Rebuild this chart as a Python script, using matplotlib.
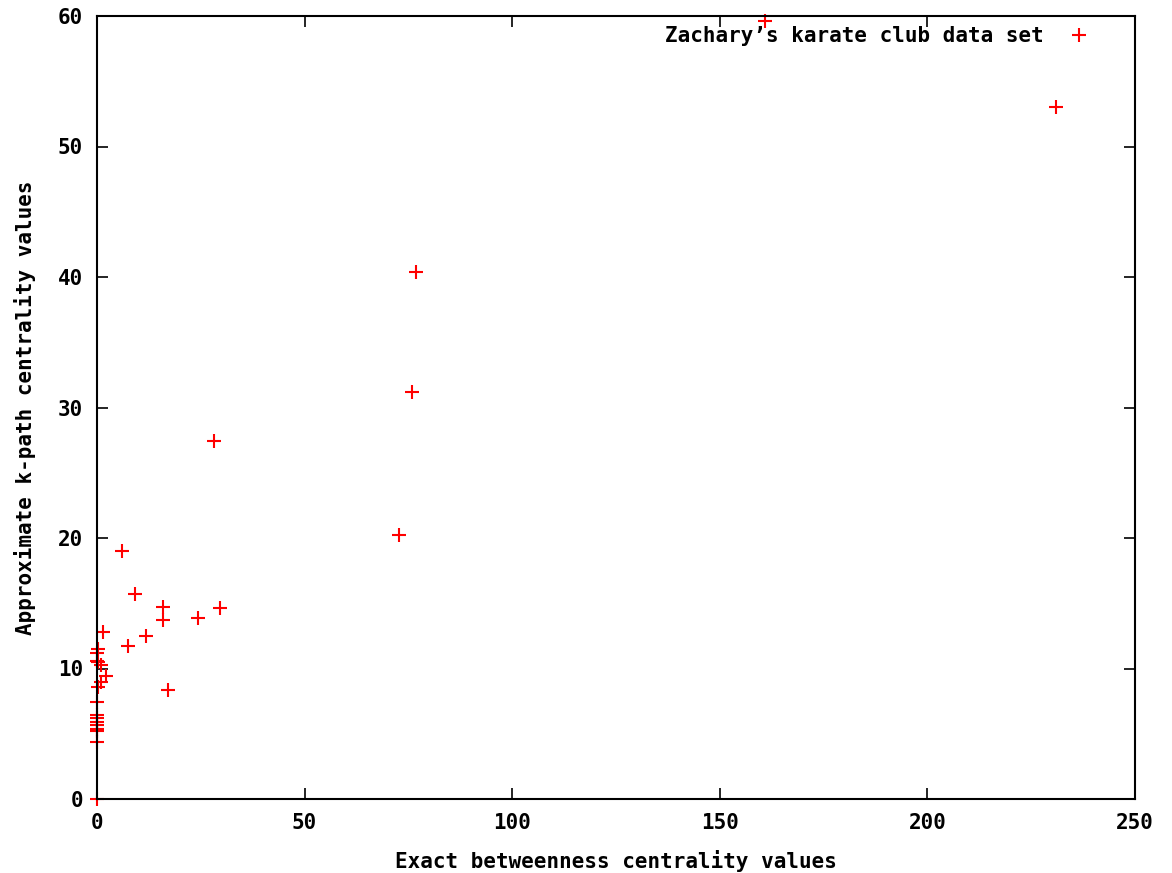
import matplotlib
matplotlib.use("Agg")
import matplotlib.pyplot as plt

# Exact betweenness vs approximate k-path centrality (Zachary's karate club)
betweenness = [160.9, 231.0, 76.8, 75.9, 28.2, 72.7, 6.0, 9.2, 15.9, 29.6,
               15.9, 24.3, 11.8, 7.5, 17.1, 1.5, 0.3, 0.0, 1.0, 2.2,
               1.0, 0.3, 0.0, 0.0, 0.0, 0.0, 0.0, 0.0, 0.0, 0.0,
               0.0, 0.0, 0.3]
kpath = [59.6, 53.0, 40.4, 31.2, 27.4, 20.2, 19.0, 15.7, 14.7, 14.6,
         13.7, 13.9, 12.5, 11.7, 8.35, 12.8, 11.5, 10.6, 10.3, 9.4,
         9.0, 8.6, 7.4, 6.4, 6.2, 5.9, 5.7, 5.4, 5.2, 4.4,
         0.0, 11.2, 10.5]

xticks = [0, 50, 100, 150, 200, 250]
yticks = [0, 10, 20, 30, 40, 50, 60]

mono = ["DejaVu Sans Mono"]
fs = 15
fig = plt.figure(figsize=(11.72, 8.73), dpi=100)
ax = fig.add_axes([97 / 1172, 74 / 873, (1135 - 97) / 1172, (799 - 16) / 873])

ax.plot(betweenness, kpath, linestyle="none", marker="+", color="#ff0000",
        markersize=10, markeredgewidth=1.5, clip_on=False,
        label="Zachary\u2019s karate club data set")

ax.set_xlim(0, 250)
ax.set_ylim(0, 60)
ax.set_xticks(xticks)
ax.set_yticks(yticks)
ax.tick_params(direction="in", length=8, width=1.2, top=True, right=True,
               labelsize=fs, pad=10, colors="black")
for lbl in ax.get_xticklabels() + ax.get_yticklabels():
    lbl.set_family(mono)
    lbl.set_fontweight("bold")
for s in ax.spines.values():
    s.set_linewidth(1.5)

ax.set_xlabel("Exact betweenness centrality values", family=mono,
              fontweight="bold", fontsize=fs, labelpad=12)
ax.set_ylabel("Approximate k-path centrality values", family=mono,
              fontweight="bold", fontsize=fs, labelpad=16)

ax.legend(loc="upper right", frameon=False, markerfirst=False,
          prop={"family": mono, "weight": "bold", "size": fs},
          handlelength=2.2, handletextpad=0.6, borderaxespad=0.3,
          bbox_to_anchor=(0.982, 1.006))

fig.savefig("out.png", dpi=100)
